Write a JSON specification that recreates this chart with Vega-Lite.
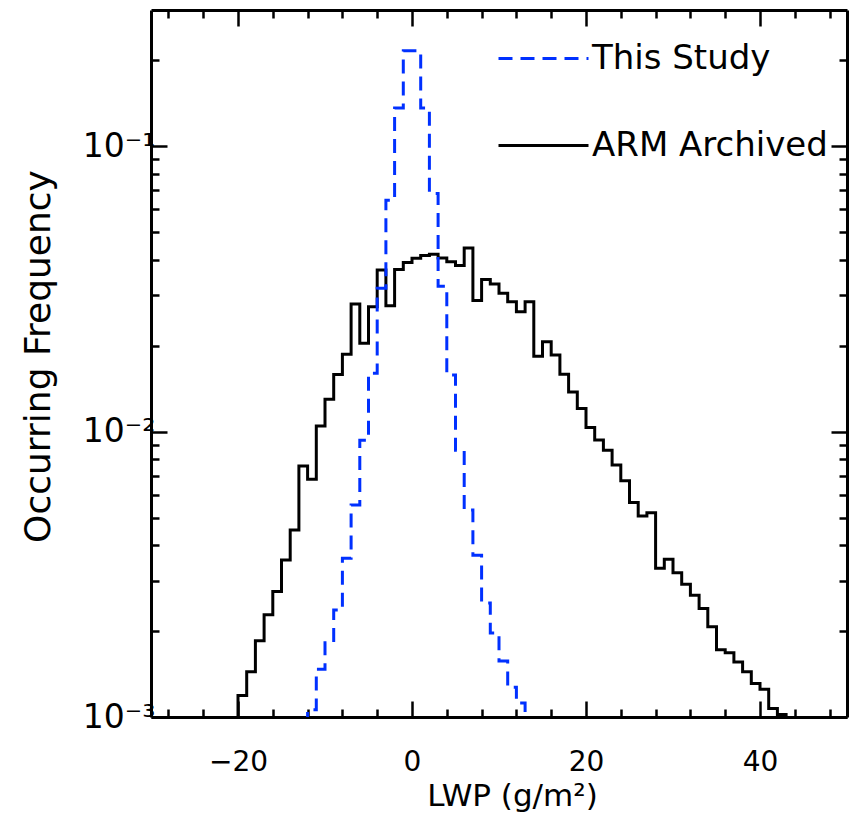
{
  "$schema": "https://vega.github.io/schema/vega-lite/v6.json",
  "width": 696,
  "height": 707,
  "autosize": {"type": "none"},
  "padding": {"left": 151, "top": 10, "right": 10, "bottom": 98},
  "background": "white",
  "config": {
    "view": {"stroke": null},
    "axis": {
      "domainColor": "black", "domainWidth": 3, "tickColor": "black", "tickWidth": 2.5,
      "labelFont": "DejaVu Sans", "labelFontSize": 30, "labelColor": "black",
      "titleFont": "DejaVu Sans", "titleFontSize": 31, "titleFontWeight": "normal", "titleColor": "black",
      "grid": false, "labelOverlap": false, "labelFlush": false
    }
  },
  "data": {
    "values": [
      {"lwp": -21, "freq": 0.0008, "series": "ARM Archived"},
      {"lwp": -20, "freq": 0.00119, "series": "ARM Archived"},
      {"lwp": -19, "freq": 0.00144, "series": "ARM Archived"},
      {"lwp": -18, "freq": 0.00185, "series": "ARM Archived"},
      {"lwp": -17, "freq": 0.00228, "series": "ARM Archived"},
      {"lwp": -16, "freq": 0.00275, "series": "ARM Archived"},
      {"lwp": -15, "freq": 0.00355, "series": "ARM Archived"},
      {"lwp": -14, "freq": 0.00452, "series": "ARM Archived"},
      {"lwp": -13, "freq": 0.00757, "series": "ARM Archived"},
      {"lwp": -12, "freq": 0.00681, "series": "ARM Archived"},
      {"lwp": -11, "freq": 0.01047, "series": "ARM Archived"},
      {"lwp": -10, "freq": 0.01297, "series": "ARM Archived"},
      {"lwp": -9, "freq": 0.01585, "series": "ARM Archived"},
      {"lwp": -8, "freq": 0.01866, "series": "ARM Archived"},
      {"lwp": -7, "freq": 0.028, "series": "ARM Archived"},
      {"lwp": -6, "freq": 0.0204, "series": "ARM Archived"},
      {"lwp": -5, "freq": 0.02736, "series": "ARM Archived"},
      {"lwp": -4, "freq": 0.0368, "series": "ARM Archived"},
      {"lwp": -3, "freq": 0.0276, "series": "ARM Archived"},
      {"lwp": -2, "freq": 0.037, "series": "ARM Archived"},
      {"lwp": -1, "freq": 0.0391, "series": "ARM Archived"},
      {"lwp": 0, "freq": 0.0405, "series": "ARM Archived"},
      {"lwp": 1, "freq": 0.0414, "series": "ARM Archived"},
      {"lwp": 2, "freq": 0.0418, "series": "ARM Archived"},
      {"lwp": 3, "freq": 0.0406, "series": "ARM Archived"},
      {"lwp": 4, "freq": 0.0394, "series": "ARM Archived"},
      {"lwp": 5, "freq": 0.0382, "series": "ARM Archived"},
      {"lwp": 6, "freq": 0.044, "series": "ARM Archived"},
      {"lwp": 7, "freq": 0.0288, "series": "ARM Archived"},
      {"lwp": 8, "freq": 0.0341, "series": "ARM Archived"},
      {"lwp": 9, "freq": 0.0329, "series": "ARM Archived"},
      {"lwp": 10, "freq": 0.0305, "series": "ARM Archived"},
      {"lwp": 11, "freq": 0.0285, "series": "ARM Archived"},
      {"lwp": 12, "freq": 0.0263, "series": "ARM Archived"},
      {"lwp": 13, "freq": 0.0285, "series": "ARM Archived"},
      {"lwp": 14, "freq": 0.01837, "series": "ARM Archived"},
      {"lwp": 15, "freq": 0.02064, "series": "ARM Archived"},
      {"lwp": 16, "freq": 0.01854, "series": "ARM Archived"},
      {"lwp": 17, "freq": 0.01588, "series": "ARM Archived"},
      {"lwp": 18, "freq": 0.01377, "series": "ARM Archived"},
      {"lwp": 19, "freq": 0.01205, "series": "ARM Archived"},
      {"lwp": 20, "freq": 0.01034, "series": "ARM Archived"},
      {"lwp": 21, "freq": 0.00934, "series": "ARM Archived"},
      {"lwp": 22, "freq": 0.00861, "series": "ARM Archived"},
      {"lwp": 23, "freq": 0.00763, "series": "ARM Archived"},
      {"lwp": 24, "freq": 0.00673, "series": "ARM Archived"},
      {"lwp": 25, "freq": 0.00564, "series": "ARM Archived"},
      {"lwp": 26, "freq": 0.00506, "series": "ARM Archived"},
      {"lwp": 27, "freq": 0.0052, "series": "ARM Archived"},
      {"lwp": 28, "freq": 0.00332, "series": "ARM Archived"},
      {"lwp": 29, "freq": 0.00357, "series": "ARM Archived"},
      {"lwp": 30, "freq": 0.0032, "series": "ARM Archived"},
      {"lwp": 31, "freq": 0.00292, "series": "ARM Archived"},
      {"lwp": 32, "freq": 0.00267, "series": "ARM Archived"},
      {"lwp": 33, "freq": 0.0024, "series": "ARM Archived"},
      {"lwp": 34, "freq": 0.00207, "series": "ARM Archived"},
      {"lwp": 35, "freq": 0.00172, "series": "ARM Archived"},
      {"lwp": 36, "freq": 0.00168, "series": "ARM Archived"},
      {"lwp": 37, "freq": 0.00156, "series": "ARM Archived"},
      {"lwp": 38, "freq": 0.00144, "series": "ARM Archived"},
      {"lwp": 39, "freq": 0.00131, "series": "ARM Archived"},
      {"lwp": 40, "freq": 0.00125, "series": "ARM Archived"},
      {"lwp": 41, "freq": 0.00107, "series": "ARM Archived"},
      {"lwp": 42, "freq": 0.00102, "series": "ARM Archived"},
      {"lwp": 43, "freq": 0.0008, "series": "ARM Archived"},
      {"lwp": -13, "freq": 0.0007, "series": "This Study"},
      {"lwp": -12, "freq": 0.00106, "series": "This Study"},
      {"lwp": -11, "freq": 0.00147, "series": "This Study"},
      {"lwp": -10, "freq": 0.00182, "series": "This Study"},
      {"lwp": -9, "freq": 0.00237, "series": "This Study"},
      {"lwp": -8, "freq": 0.0036, "series": "This Study"},
      {"lwp": -7, "freq": 0.00553, "series": "This Study"},
      {"lwp": -6, "freq": 0.00933, "series": "This Study"},
      {"lwp": -5, "freq": 0.01601, "series": "This Study"},
      {"lwp": -4, "freq": 0.0318, "series": "This Study"},
      {"lwp": -3, "freq": 0.0647, "series": "This Study"},
      {"lwp": -2, "freq": 0.136, "series": "This Study"},
      {"lwp": -1, "freq": 0.216, "series": "This Study"},
      {"lwp": 0, "freq": 0.216, "series": "This Study"},
      {"lwp": 1, "freq": 0.136, "series": "This Study"},
      {"lwp": 2, "freq": 0.0683, "series": "This Study"},
      {"lwp": 3, "freq": 0.0323, "series": "This Study"},
      {"lwp": 4, "freq": 0.01578, "series": "This Study"},
      {"lwp": 5, "freq": 0.0086, "series": "This Study"},
      {"lwp": 6, "freq": 0.00531, "series": "This Study"},
      {"lwp": 7, "freq": 0.00369, "series": "This Study"},
      {"lwp": 8, "freq": 0.00251, "series": "This Study"},
      {"lwp": 9, "freq": 0.00197, "series": "This Study"},
      {"lwp": 10, "freq": 0.00157, "series": "This Study"},
      {"lwp": 11, "freq": 0.00127, "series": "This Study"},
      {"lwp": 12, "freq": 0.00112, "series": "This Study"},
      {"lwp": 13, "freq": 0.0008, "series": "This Study"}
    ]
  },
  "layer": [
    {
      "mark": {"type": "line", "interpolate": "step-after", "clip": true, "strokeWidth": 3},
      "encoding": {
        "x": {
          "field": "lwp", "type": "quantitative",
          "scale": {"domain": [-30, 50], "nice": false, "zero": false},
          "axis": {
            "orient": "bottom",
            "values": [-28, -24, -20, -16, -12, -8, -4, 0, 4, 8, 12, 16, 20, 24, 28, 32, 36, 40, 44, 48],
            "labelExpr": "datum.value % 20 === 0 ? (datum.value < 0 ? '\u2212' + abs(datum.value) : '' + datum.value) : ''",
            "tickSize": {"condition": {"test": "datum.value % 20 === 0", "value": -16}, "value": -8},
            "labelFontSize": 28,
            "labelPadding": 47,
            "labelBaseline": "top",
            "title": "LWP (g/m\u00b2)",
            "titleX": 361,
            "titleY": 79,
            "titleAlign": "center",
            "titleBaseline": "middle"
          }
        },
        "y": {
          "field": "freq", "type": "quantitative",
          "scale": {"type": "log", "domain": [0.001, 0.3], "nice": false},
          "axis": {
            "orient": "left",
            "values": [0.001, 0.002, 0.003, 0.004, 0.005, 0.006, 0.007, 0.008, 0.009, 0.01, 0.02, 0.03, 0.04, 0.05, 0.06, 0.07, 0.08, 0.09, 0.1, 0.2],
            "labelExpr": "datum.value == 0.1 ? '10\u207b\u00b9' : datum.value == 0.01 ? '10\u207b\u00b2' : datum.value == 0.001 ? '10\u207b\u00b3' : ''",
            "tickSize": {"condition": {"test": "datum.value == 0.1 || datum.value == 0.01 || datum.value == 0.001", "value": -16}, "value": -8},
            "labelFontSize": 33,
            "labelPadding": 12,
            "title": "Occurring Frequency",
            "titleFontSize": 36,
            "titleX": -113,
            "titleY": 346,
            "titleAngle": -90,
            "titleAlign": "center",
            "titleBaseline": "middle"
          }
        },
        "color": {
          "field": "series", "type": "nominal",
          "scale": {"domain": ["This Study", "ARM Archived"], "range": ["#0030ff", "black"]},
          "legend": {
            "title": null, "orient": "none", "legendX": 346, "legendY": 2,
            "symbolType": "stroke", "symbolSize": 8100, "symbolStrokeWidth": 3,
            "labelFont": "DejaVu Sans", "labelFontSize": 34, "labelColor": "black", "labelLimit": 0,
            "labelOffset": 2, "rowPadding": 23, "padding": 0
          }
        },
        "strokeDash": {
          "field": "series", "type": "nominal",
          "scale": {"domain": ["This Study", "ARM Archived"], "range": [[14, 8], [1, 0]]},
          "legend": {
            "title": null, "orient": "none", "legendX": 346, "legendY": 2,
            "symbolType": "stroke", "symbolSize": 8100, "symbolStrokeWidth": 3,
            "labelFont": "DejaVu Sans", "labelFontSize": 34, "labelColor": "black", "labelLimit": 0,
            "labelOffset": 2, "rowPadding": 23, "padding": 0
          }
        }
      }
    },
    {
      "mark": {"type": "line", "strokeOpacity": 0, "clip": true},
      "encoding": {
        "x": {
          "field": "lwp", "type": "quantitative",
          "axis": {
            "orient": "top",
            "values": [-28, -24, -20, -16, -12, -8, -4, 0, 4, 8, 12, 16, 20, 24, 28, 32, 36, 40, 44, 48],
            "labels": false,
            "tickSize": {"condition": {"test": "datum.value % 20 === 0", "value": -16}, "value": -8},
            "title": null
          }
        },
        "y": {
          "field": "freq", "type": "quantitative",
          "axis": {
            "orient": "right",
            "values": [0.001, 0.002, 0.003, 0.004, 0.005, 0.006, 0.007, 0.008, 0.009, 0.01, 0.02, 0.03, 0.04, 0.05, 0.06, 0.07, 0.08, 0.09, 0.1, 0.2],
            "labels": false,
            "tickSize": {"condition": {"test": "datum.value == 0.1 || datum.value == 0.01 || datum.value == 0.001", "value": -16}, "value": -8},
            "title": null
          }
        },
        "detail": {"field": "series", "type": "nominal"}
      }
    }
  ],
  "resolve": {"axis": {"x": "independent", "y": "independent"}}
}
